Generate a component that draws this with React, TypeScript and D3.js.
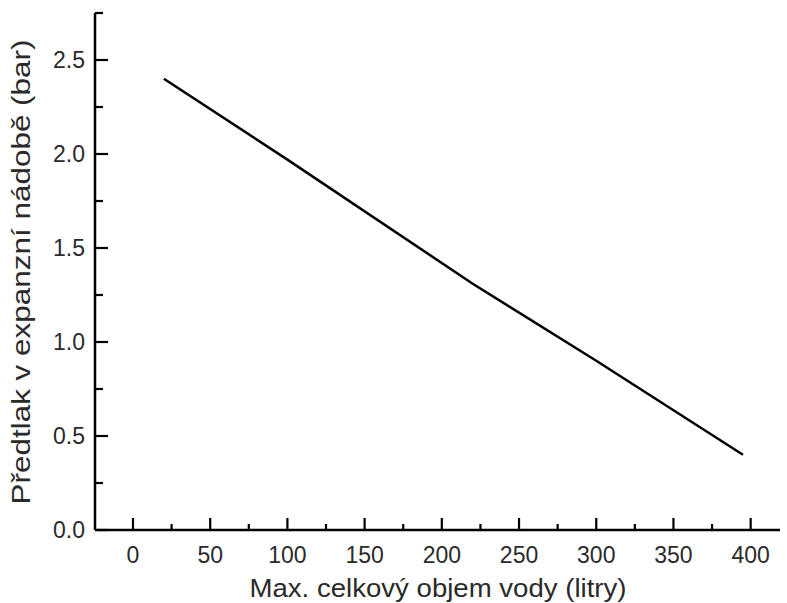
import React from "react";
import * as d3 from "d3";

const volumes = [20, 100, 220, 300, 395];
const pressures = [2.4, 1.97, 1.31, 0.9, 0.4];
const xMajorTicks = [0, 50, 100, 150, 200, 250, 300, 350, 400];
const xMinorTicks = [25, 75, 125, 175, 225, 275, 325, 375];
const yMajorTicks = [0, 0.5, 1.0, 1.5, 2.0, 2.5];
const yMinorTicks = [0.25, 0.75, 1.25, 1.75, 2.25, 2.75];
const xTitle = "Max. celkový objem vody (litry)";
const yTitle = "Předtlak v expanzní nádobě (bar)";

export default function App() {
  const W = 787, H = 603;
  const x = d3.scaleLinear().domain([-24.6, 419]).range([95, 780]);
  const y = d3.scaleLinear().domain([0, 2.75]).range([530, 13]);
  const line = d3.line<number>().x((_, i) => x(volumes[i])).y((d) => y(d));
  const font = "Arial, 'Liberation Sans', sans-serif";
  const textCol = "#2a2a2a";
  return (
    <svg width={W} height={H} style={{ position: "fixed", left: 0, top: 0, background: "#fff" }}>
      <rect width={W} height={H} fill="#fff" />
      <line x1={x(-24.6)} x2={x(419)} y1={y(0)} y2={y(0)} stroke="#000" strokeWidth={2.5} />
      <line x1={x(-24.6)} x2={x(-24.6)} y1={y(0)} y2={y(2.75)} stroke="#000" strokeWidth={2.5} />
      {xMajorTicks.map((t) => (
        <g key={"xm" + t}>
          <line x1={x(t)} x2={x(t)} y1={y(0)} y2={y(0) - 12} stroke="#000" strokeWidth={2.2} />
          <text x={x(t)} y={563} textAnchor="middle" fontSize={23} fontFamily={font} fill={textCol}>{t}</text>
        </g>
      ))}
      {xMinorTicks.map((t) => (
        <line key={"xn" + t} x1={x(t)} x2={x(t)} y1={y(0)} y2={y(0) - 6} stroke="#000" strokeWidth={2.2} />
      ))}
      {yMajorTicks.map((t) => (
        <g key={"ym" + t}>
          <line x1={x(-24.6)} x2={x(-24.6) + 13} y1={y(t)} y2={y(t)} stroke="#000" strokeWidth={2.2} />
          <text x={85} y={y(t) + 8} textAnchor="end" fontSize={23} fontFamily={font} fill={textCol}>{t.toFixed(1)}</text>
        </g>
      ))}
      {yMinorTicks.map((t) => (
        <line key={"yn" + t} x1={x(-24.6)} x2={x(-24.6) + 8} y1={y(t)} y2={y(t)} stroke="#000" strokeWidth={2.2} />
      ))}
      <path d={line(pressures) || ""} fill="none" stroke="#000" strokeWidth={2.5} />
      <text x={438} y={597} textAnchor="middle" fontSize={25} fontFamily={font} fill={textCol}
        textLength={377} lengthAdjust="spacingAndGlyphs">{xTitle}</text>
      <text transform={`translate(30, 272) rotate(-90)`} textAnchor="middle" fontSize={25} fontFamily={font} fill={textCol}
        textLength={465} lengthAdjust="spacingAndGlyphs">{yTitle}</text>
    </svg>
  );
}
